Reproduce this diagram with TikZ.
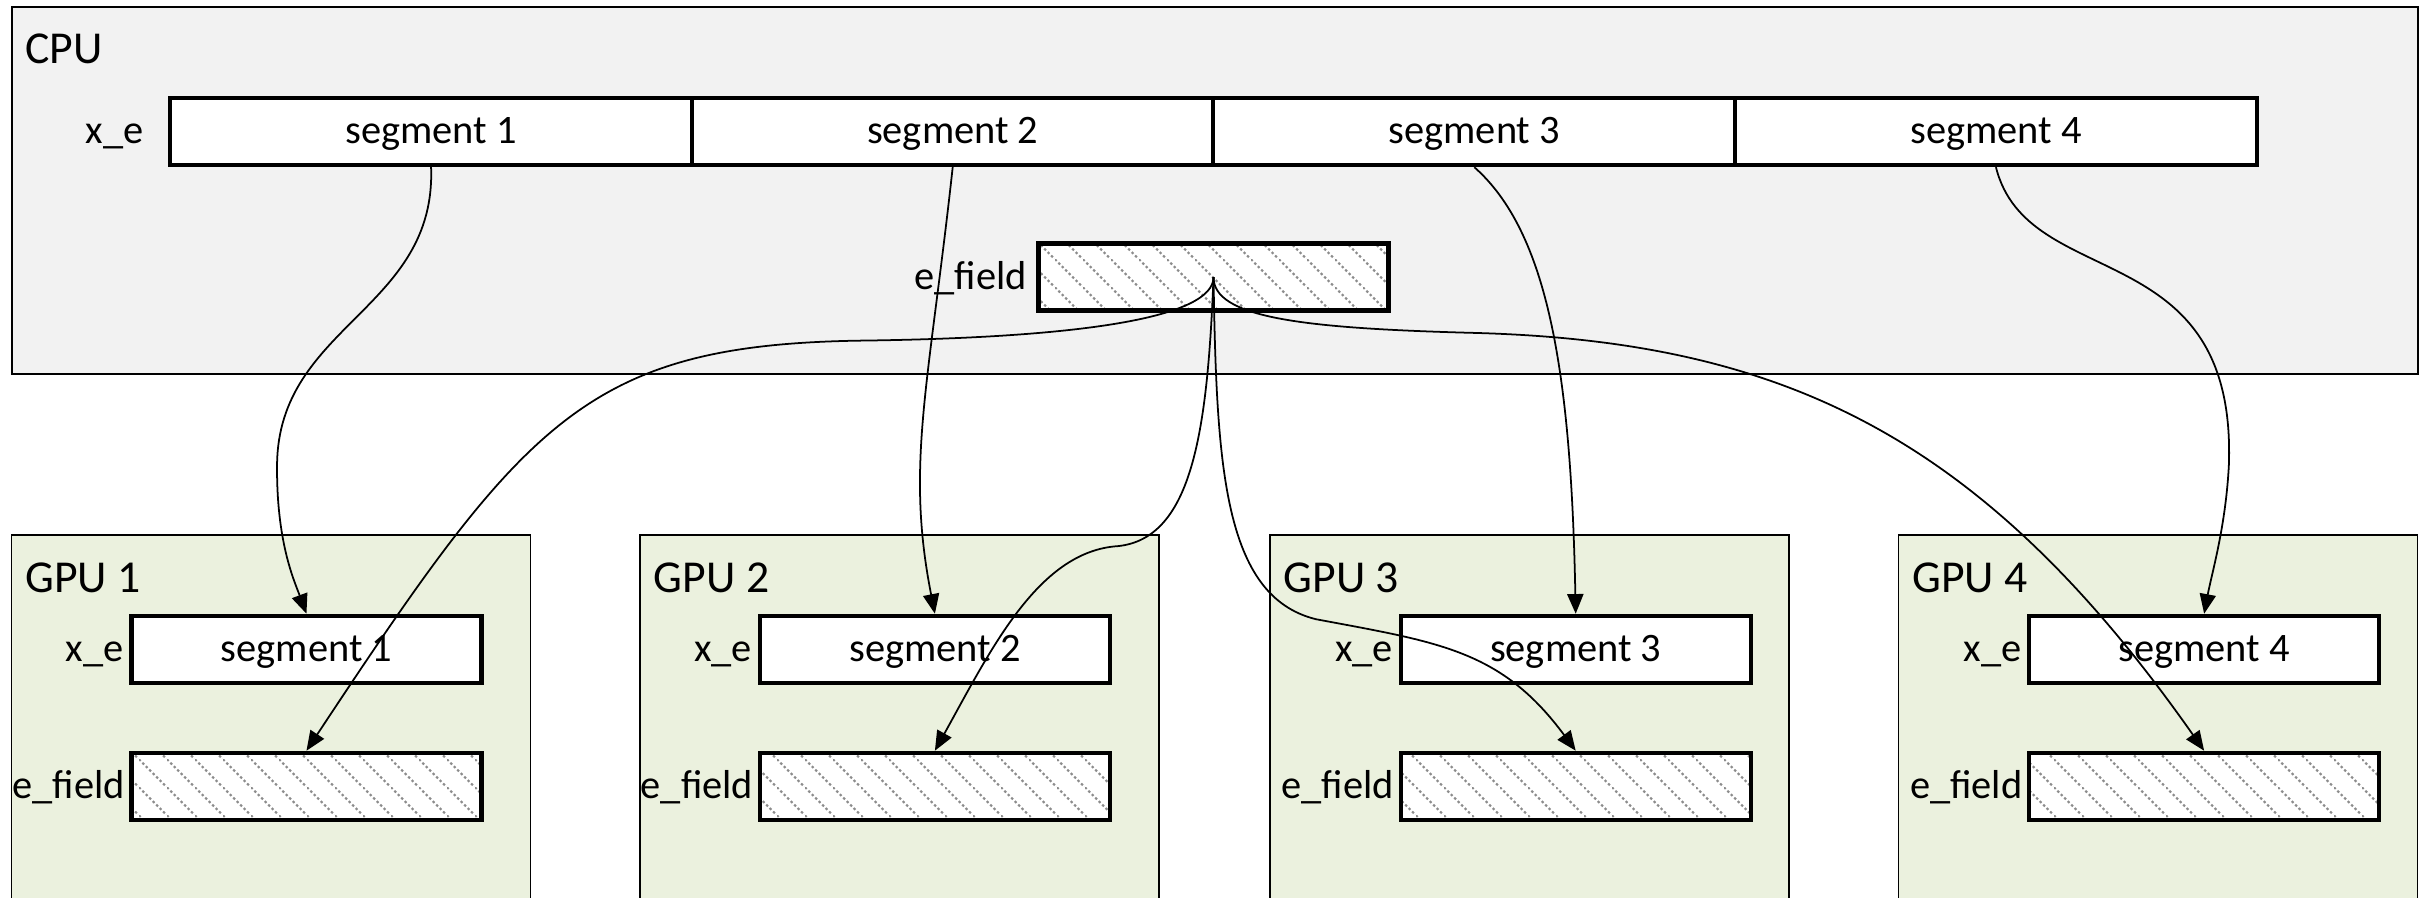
\documentclass[tikz,border=0pt]{standalone}
\usepackage{fontspec}
\setmainfont{Carlito}
\usetikzlibrary{arrows.meta,positioning,patterns.meta}
\tikzset{>/.tip={Triangle[length=5.6pt,width=4.6pt]}}
\definecolor{cpufill}{HTML}{F2F2F2}
\definecolor{gpufill}{HTML}{EBF1DE}
% dotted diagonal hatching for the field buffers
\pgfdeclarepattern{
  name=dothatch,
  type=uncolored,
  bottom left={\pgfpoint{0pt}{0pt}},
  top right={\pgfpoint{7.9pt}{7.9pt}},
  tile size={\pgfpoint{7.9pt}{7.9pt}},
  code={
    \pgfsetlinewidth{0.6pt}
    \pgfsetdash{{0.7pt}{0.7pt}}{0pt}
    \pgfpathmoveto{\pgfpoint{-1pt}{8.9pt}}
    \pgfpathlineto{\pgfpoint{8.9pt}{-1pt}}
    \pgfusepath{stroke}
  }
}

\begin{document}
\begin{tikzpicture}[x=1.548mm, y=1.548mm,
  segbox/.style={draw, line width=1.2pt, fill=white, minimum height=6.7mm, inner sep=0pt, text height=9.3pt, text depth=2.4pt, font=\fontsize{11.5}{13}\selectfont},
  fieldbox/.style={draw, line width=1.2pt, preaction={fill=white}, pattern=dothatch, pattern color=black!45, minimum width=35mm, minimum height=6.7mm, inner sep=0pt},
  lbl/.style={inner sep=0pt, text height=9.3pt, text depth=2.4pt, font=\fontsize{11.5}{13}\selectfont},
  head/.style={inner sep=0pt, font=\fontsize{13}{15}\selectfont},
  conn/.style={->, line width=0.5pt}]
\clip (0,0) rectangle (156.8,-58);

% host side
\node[draw, line width=0.6pt, fill=cpufill, anchor=north west, minimum width=240.6mm, minimum height=36.7mm] (cpu) at (0.7,-0.4) {};
\node[head, anchor=west] (cpulbl) at (1.6,-3.15) {CPU};
\foreach \i/\cx in {1/27.85, 2/61.55, 3/95.25, 4/128.95}
  \node[segbox, minimum width=52.2mm] (s\i) at (\cx,-8.5) {segment \i};
\node[lbl, left=2.4mm of s1] (sxl) {x\_e};
\node[fieldbox] (ef) at (78.4,-17.9) {};
\node[lbl, left=0.9mm of ef] (efl) {e\_field};

% devices
\foreach \i/\gx/\sx in {1/0.7/19.8, 2/41.3/60.4, 3/82.0/101.8, 4/122.6/142.4} {
  \node[draw, line width=0.45pt, fill=gpufill, anchor=north west, minimum width=51.9mm, minimum height=40mm] (gpu\i) at (\gx,-34.5) {};
  \node[head, anchor=west] (gpulbl\i) at (\gx+0.9,-37.3) {GPU \i};
  \node[segbox, minimum width=35mm] (gx\i) at (\sx,-41.95) {segment \i};
  \node[fieldbox] (gf\i) at (\sx,-50.8) {};
  \node[lbl, left=0.5mm of gx\i] (gxl\i) {x\_e};
  \node[lbl, left=0.4mm of gf\i] (gfl\i) {e\_field};
}

% segments scattered to the devices
\draw[conn] (s1.south) .. controls (28.2,-20) and (18,-21) .. (17.9,-30) .. controls (17.85,-35) and (19,-37.5) .. (gx1.north);
\draw[conn] (s2.south) .. controls (60,-25) and (58.5,-30) .. (gx2.north);
\draw[conn] (s3.south) .. controls (100,-15) and (101.5,-24) .. (gx3.north);
\draw[conn] (s4.south) .. controls (131,-19) and (144.5,-15) .. (144,-30) .. controls (143.8,-34) and (142.9,-37) .. (gx4.north);

% e_field copied to every device
\draw[conn] (ef.center) .. controls (78.4,-20.5) and (70,-21.8) .. (56,-22) .. controls (38,-22.2) and (34,-27) .. (gf1.north);
\draw[conn] (ef.center) .. controls (78,-28) and (77,-35) .. (72,-35.3) .. controls (67,-35.8) and (64,-42) .. (gf2.north);
\draw[conn] (ef.center) .. controls (78.6,-30) and (79,-38.5) .. (85,-40) .. controls (93,-41.5) and (97,-42) .. (gf3.north);
\draw[conn] (ef.center) .. controls (78.4,-20.5) and (84,-21.2) .. (95,-21.5) .. controls (115,-22) and (128,-28) .. (gf4.north);
\end{tikzpicture}
\end{document}
